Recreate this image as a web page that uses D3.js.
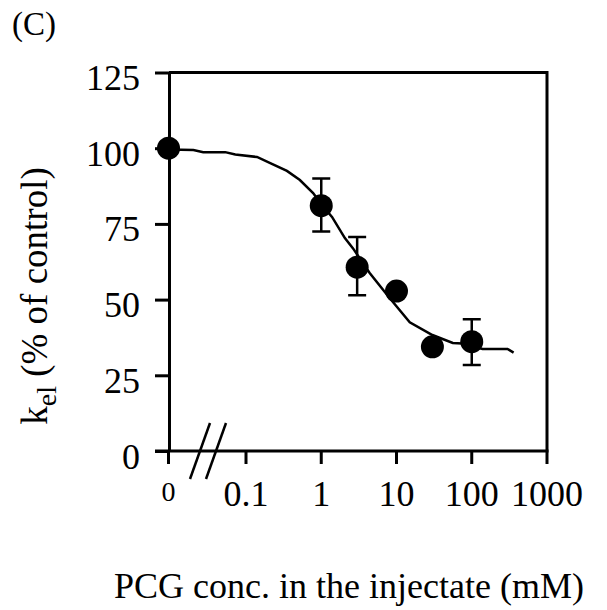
<!DOCTYPE html>
<html><head><meta charset="utf-8">
<script src="https://cdn.jsdelivr.net/npm/d3@7"></script>
<style>body{margin:0;background:#fff}svg{display:block}text{font-family:"Liberation Serif","Times New Roman",serif;fill:#000}</style>
</head><body><svg id="c" width="607" height="610"></svg>
<script>
// Data
const conc = [0, 1, 3, 10, 30, 100];            // mM (0 = control)
const kel = [100, 81, 60.7, 52.8, 34.4, 36.1];   // % of control
const errUp = [null, 90, 70.7, null, null, 43.5];
const errLo = [null, 72.5, 51.4, null, null, 28.4];
const curveX = [0, 0.02, 0.027, 0.053, 0.072, 0.14, 0.21, 0.35, 0.52, 0.78, 1.0, 1.39, 2.06, 2.63, 4.4, 8.1, 15, 30, 56, 75, 139, 299, 360];
const curveY = [99.6, 99.4, 98.7, 98.7, 97.9, 97.1, 95.1, 92.5, 89.5, 85.2, 81.5, 77.3, 70.3, 67, 58.8, 50.5, 42.5, 38.3, 35.7, 35.5, 33.7, 33.7, 32.5];
const xTicks = [0.1, 1, 10, 100, 1000];
const xTickLabels = ["0.1", "1", "10", "100", "1000"];
const yTicks = [0, 25, 50, 75, 100, 125];

const svg = d3.select("#c");
const L = 169, R = 547, T = 72.5, B = 451, X0 = 168.5;
const xLog = d3.scaleLog().domain([0.1, 1000]).range([246, R]);
const y = d3.scaleLinear().domain([0, 125]).range([B, T]);
const xp = v => v === 0 ? X0 : xLog(v);

// y axis
const ya = svg.append("g").attr("transform", `translate(${L},0)`)
  .call(d3.axisLeft(y).tickValues(yTicks).tickSize(14).tickSizeOuter(0).tickPadding(15));
ya.select(".domain").attr("stroke-width", 3);
ya.selectAll(".tick line").attr("stroke-width", 3);
ya.selectAll(".tick text").attr("font-size", 36).attr("dy", "17");

// frame top and right
svg.append("path").attr("d", `M${L},${T}H${R}V${B}`).attr("fill", "none").attr("stroke", "#000").attr("stroke-width", 3);
// x axis line
svg.append("line").attr("x1", 155).attr("x2", R + 1.5).attr("y1", B).attr("y2", B).attr("stroke", "#000").attr("stroke-width", 3);
// x ticks
const xt = [0].concat(xTicks);
svg.selectAll(".xt").data(xt).enter().append("line")
  .attr("x1", d => xp(d)).attr("x2", d => xp(d)).attr("y1", B).attr("y2", B + 13)
  .attr("stroke", "#000").attr("stroke-width", 3);
svg.selectAll(".xl").data(xTicks).enter().append("text")
  .attr("x", d => xLog(d)).attr("y", 506).attr("text-anchor", "middle").attr("font-size", 36)
  .text((d, i) => xTickLabels[i]);
svg.append("text").attr("x", X0).attr("y", 501).attr("text-anchor", "middle").attr("font-size", 28).text("0");
// axis break marks
[[190, 210], [206, 226]].forEach(([a, b]) => {
  svg.append("line").attr("x1", a).attr("y1", 479).attr("x2", b).attr("y2", 423)
    .attr("stroke", "#000").attr("stroke-width", 2.5);
});

// curve
const line = d3.line().x(d => xp(d[0])).y(d => y(d[1]));
svg.append("path").datum(curveX.map((c, i) => [c, curveY[i]]))
  .attr("d", line).attr("fill", "none").attr("stroke", "#000").attr("stroke-width", 2.5);

// error bars
const eb = conc.map((c, i) => ({c, u: errUp[i], l: errLo[i]})).filter(d => d.u !== null);
eb.forEach(d => {
  const x = xp(d.c);
  svg.append("path").attr("d", `M${x},${y(d.u)}V${y(d.l)}M${x - 9},${y(d.u)}H${x + 9}M${x - 9},${y(d.l)}H${x + 9}`)
    .attr("fill", "none").attr("stroke", "#000").attr("stroke-width", 2.5);
});
// points
svg.selectAll(".pt").data(conc).enter().append("circle")
  .attr("cx", d => xp(d)).attr("cy", (d, i) => y(kel[i])).attr("r", 11.5).attr("fill", "#000");

// labels
svg.append("text").attr("x", 12).attr("y", 35).attr("font-size", 33).text("(C)");
svg.append("text").attr("x", 349).attr("y", 598).attr("text-anchor", "middle").attr("font-size", 36)
  .text("PCG conc. in the injectate (mM)");
const yl = svg.append("text").attr("transform", "translate(47,296) rotate(-90)").attr("text-anchor", "middle").attr("font-size", 37);
yl.append("tspan").text("k");
yl.append("tspan").attr("font-size", 28).attr("dy", 9).text("el");
yl.append("tspan").attr("dy", -9).text(" (% of control)");
</script></body></html>
